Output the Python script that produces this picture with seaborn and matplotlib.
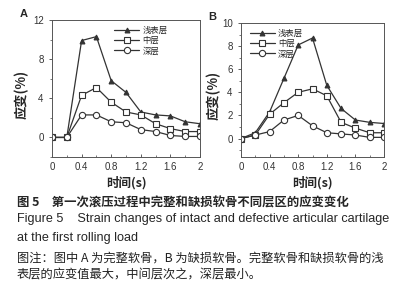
import numpy as np
import pandas as pd
import matplotlib
matplotlib.use("Agg")
import matplotlib.pyplot as plt
from matplotlib.ticker import MultipleLocator
import seaborn as sns

# -----------------------------------------------------
# DATA
# -----------------------------------------------------
time_s = [0, 0.2, 0.4, 0.6, 0.8, 1.0, 1.2, 1.4, 1.6, 1.8, 2.0]
layers = ["浅表层", "中层", "深层"]

a_surface = [0, 0, 9.9, 10.3, 5.8, 4.6, 2.6, 2.3, 2.2, 1.6, 1.4]
a_middle = [0, 0, 4.3, 5.1, 3.6, 2.6, 2.3, 1.4, 0.9, 0.6, 0.6]
a_deep = [0, 0, 2.3, 2.3, 1.6, 1.5, 0.8, 0.6, 0.2, 0.1, 0.1]

b_surface = [0, 0.5, 2.3, 5.2, 8.1, 8.7, 4.6, 2.6, 1.6, 1.4, 1.3]
b_middle = [0, 0.3, 2.1, 3.1, 4.0, 4.3, 3.7, 1.4, 0.9, 0.5, 0.5]
b_deep = [0, 0.3, 0.6, 1.6, 2.0, 1.1, 0.5, 0.4, 0.3, 0.1, 0.1]

x_ticks = [0, 0.4, 0.8, 1.2, 1.6, 2.0]
x_tick_labels = ["0", "0.4", "0.8", "1.2", "1.6", "2"]

# -----------------------------------------------------
# STYLE
# -----------------------------------------------------
sns.set_style("ticks")
plt.rcParams["font.family"] = ["Liberation Sans", "Noto Sans CJK SC", "DejaVu Sans"]
CJK = ["Noto Sans CJK SC", "DejaVu Sans"]

line_color = "#333333"
marker_styles = [
    dict(marker="^", markerfacecolor=line_color, markersize=3.5),
    dict(marker="s", markerfacecolor="white", markersize=4.5),
    dict(marker="o", markerfacecolor="white", markersize=4.5),
]

fig = plt.figure(figsize=(4.04, 3.0), dpi=100)
ax_a = fig.add_axes([52 / 404, 1 - 157 / 300, 148 / 404, 137 / 300])
ax_b = fig.add_axes([241 / 404, 1 - 157 / 300, 143 / 404, 134 / 300])


def draw_panel(ax, series, ylim, yticks, yminor, legend_loc, legend_anchor, ylab_x):
    for name, vals, st in zip(layers, series, marker_styles):
        df = pd.DataFrame({"time": time_s, "strain": vals})
        sns.lineplot(data=df, x="time", y="strain", ax=ax, color=line_color,
                     linewidth=0.9, markeredgecolor=line_color,
                     markeredgewidth=0.8, label=name, **st)
    ax.set_xlim(0, 2)
    ax.set_ylim(*ylim)
    ax.set_xticks(x_ticks)
    ax.set_xticklabels(x_tick_labels)
    ax.set_yticks(yticks)
    ax.xaxis.set_minor_locator(MultipleLocator(0.2))
    ax.yaxis.set_minor_locator(MultipleLocator(yminor))
    ax.tick_params(labelsize=7, length=2.5, width=0.6, colors="#444444",
                   labelcolor="#333333")
    ax.tick_params(which="minor", length=1.5, width=0.5, colors="#444444")
    ax.tick_params(axis="x", which="both", direction="in")
    for sp in ax.spines.values():
        sp.set_linewidth(0.7)
        sp.set_color("#555555")
    ax.set_xlabel("时间(s)", fontsize=9, fontweight="bold", family=CJK, labelpad=3)
    ax.set_ylabel("应变(%)", fontsize=9.5, fontweight="bold", family=CJK)
    ax.yaxis.set_label_coords(ylab_x, 0.46)
    ax.legend(loc=legend_loc, bbox_to_anchor=legend_anchor, frameon=False,
              prop={"family": CJK, "size": 6}, handlelength=3,
              labelspacing=0.15, borderpad=0.2, handletextpad=0.4)


draw_panel(ax_a, [a_surface, a_middle, a_deep], (-2, 12), [0, 4, 8, 12], 2,
           "upper right", (0.82, 1.0), -0.16)
draw_panel(ax_b, [b_surface, b_middle, b_deep], (-1.6, 10), [0, 2, 4, 6, 8, 10], 1,
           "upper left", (0.02, 1.0), -0.14)

fig.text(20 / 404, 1 - 14 / 300, "A", fontsize=8, fontweight="bold", va="center")
fig.text(208 / 404, 1 - 17 / 300, "B", fontsize=8, fontweight="bold", va="center")

# -----------------------------------------------------
# CAPTION
# -----------------------------------------------------
fig.text(17 / 404, 1 - 203 / 300, "图 5　第一次滚压过程中完整和缺损软骨不同层区的应变变化",
         fontsize=8.9, fontweight="bold", family=CJK, va="center")
fig.text(17 / 404, 1 - 219 / 300,
         "Figure 5    Strain changes of intact and defective articular cartilage",
         fontsize=9.1, va="center")
fig.text(17 / 404, 1 - 238 / 300, "at the first rolling load", fontsize=9.1, va="center")
fig.text(17 / 404, 1 - 258 / 300,
         "图注：图中 A 为完整软骨，B 为缺损软骨。完整软骨和缺损软骨的浅",
         fontsize=8.8, family=CJK, va="center", color="#222222")
fig.text(17 / 404, 1 - 275 / 300, "表层的应变值最大，中间层次之，深层最小。",
         fontsize=8.8, family=CJK, va="center", color="#222222")

fig.savefig("out.png", dpi=100)
